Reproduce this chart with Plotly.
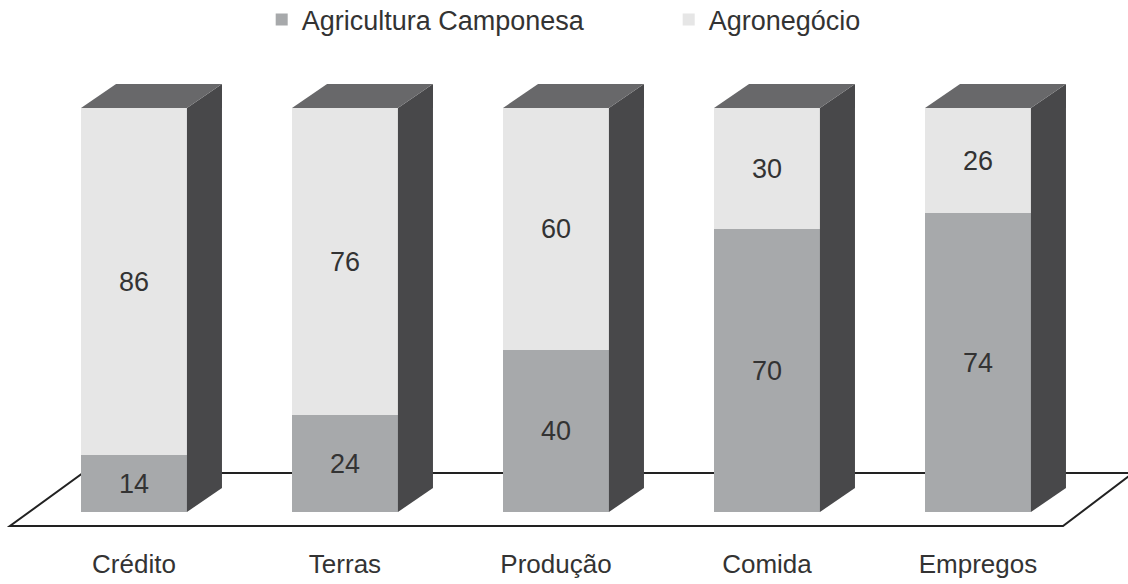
import plotly.graph_objects as go

categories = ["Crédito", "Terras", "Produção", "Comida", "Empregos"]
camponesa = [14, 24, 40, 70, 74]
agronegocio = [86, 76, 60, 30, 26]
series_names = ["Agricultura Camponesa", "Agronegócio"]

# styling
C_MED = "#a7a9ab"
C_LIGHT = "#e6e6e6"
C_SIDE = "#48484a"
C_TOP = "#68686a"
TXT = "#333333"
FONT = "Liberation Sans, Arial"

BAR_W = 0.502      # bar width in category units
DX = 0.166         # 3-D depth offset (x units)
DY = 5.94          # 3-D depth offset (y units)

x = list(range(len(categories)))
totals = [a + b for a, b in zip(camponesa, agronegocio)]

fig = go.Figure()

fig.add_trace(go.Bar(
    x=x, y=camponesa, name=series_names[0], width=BAR_W,
    marker=dict(color=C_MED, line=dict(width=0)),
    text=camponesa, textposition="inside", insidetextanchor="middle",
    textangle=0, textfont=dict(family=FONT, size=27, color=TXT),
))
fig.add_trace(go.Bar(
    x=x, y=agronegocio, name=series_names[1], width=BAR_W,
    marker=dict(color=C_LIGHT, line=dict(width=0)),
    text=agronegocio, textposition="inside", insidetextanchor="middle",
    textangle=0, textfont=dict(family=FONT, size=27, color=TXT),
))

# side and top faces, derived from the data
for xi, tot in zip(x, totals):
    r = xi + BAR_W / 2
    l = xi - BAR_W / 2
    fig.add_trace(go.Scatter(
        x=[r, r + DX, r + DX, r, r], y=[0, DY, tot + DY, tot, 0],
        fill="toself", fillcolor=C_SIDE, mode="lines",
        line=dict(width=0, color=C_SIDE), showlegend=False, hoverinfo="skip"))
    fig.add_trace(go.Scatter(
        x=[l, l + DX, r + DX, r, l], y=[tot, tot + DY, tot + DY, tot, tot],
        fill="toself", fillcolor=C_TOP, mode="lines",
        line=dict(width=0, color=C_TOP), showlegend=False, hoverinfo="skip"))

# floor (decorative parallelogram)
FL_FRONT, FL_BACK = -3.47, 9.65
FL_X = [-0.588, 4.403, 4.735, -0.242]
fig.add_shape(
    type="path", layer="below", xref="x", yref="y",
    path=(f"M{FL_X[0]},{FL_FRONT} L{FL_X[1]},{FL_FRONT} "
          f"L{FL_X[2]},{FL_BACK} L{FL_X[3]},{FL_BACK} Z"),
    line=dict(color="#222222", width=2), fillcolor="rgba(0,0,0,0)")

fig.update_layout(
    width=1128, height=584,
    margin=dict(l=0, r=0, t=0, b=44, autoexpand=False),
    paper_bgcolor="white", plot_bgcolor="white",
    barmode="stack", bargap=0,
    showlegend=True,
    legend=dict(orientation="h", traceorder="normal",
                xref="container", yref="container",
                x=0.232, xanchor="left", y=0.966, yanchor="middle",
                font=dict(family=FONT, size=27, color=TXT),
                entrywidth=362, entrywidthmode="pixels",
                itemclick=False, itemdoubleclick=False,
                bgcolor="rgba(0,0,0,0)"),
    xaxis=dict(range=[-0.635, 4.711], tickvals=x, ticktext=categories,
               automargin=False,
               showgrid=False, zeroline=False, showline=False,
               ticks="outside", ticklen=1, tickcolor="rgba(0,0,0,0)",
               tickfont=dict(family=FONT, size=26, color=TXT)),
    yaxis=dict(range=[-6.93, 126.73], visible=False, showgrid=False,
               zeroline=False, automargin=False),
)

fig.write_html("out.html",
               config={"displayModeBar": False},
               post_script="document.body.style.margin='0';document.body.style.overflow='hidden';")
